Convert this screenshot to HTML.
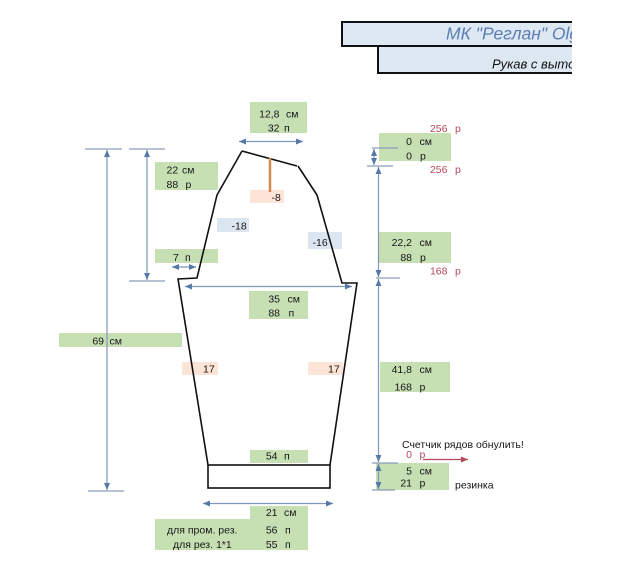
<!DOCTYPE html>
<html><head><meta charset="utf-8"><style>
html,body{margin:0;padding:0;background:#fff;}
svg{display:block;}
text{font-family:"Liberation Sans","DejaVu Sans",sans-serif;font-size:10.5px;fill:#161616;}
.r{fill:#b5475a;}
</style></head><body>
<svg width="633" height="572" viewBox="0 0 633 572" xmlns="http://www.w3.org/2000/svg">
<defs>
<clipPath id="cp"><rect x="0" y="0" width="572" height="100"/></clipPath>
<marker id="ah" markerWidth="8" markerHeight="8" refX="7" refY="4" orient="auto" markerUnits="userSpaceOnUse">
<path d="M0,1 L7,4 L0,7 z" fill="#5878a8"/></marker>
<marker id="ahs" markerWidth="8" markerHeight="8" refX="7" refY="4" orient="auto-start-reverse" markerUnits="userSpaceOnUse">
<path d="M0,1 L7,4 L0,7 z" fill="#5878a8"/></marker>
<marker id="ahr" markerWidth="8" markerHeight="8" refX="7" refY="4" orient="auto" markerUnits="userSpaceOnUse">
<path d="M0,1 L7,4 L0,7 z" fill="#b5475a"/></marker>
</defs>

<!-- Title boxes -->
<rect x="342" y="22" width="240" height="24" fill="#dde8f3"/>
<path d="M572,22 H342 V46 H572" fill="none" stroke="#111" stroke-width="2"/>
<rect x="378" y="46" width="200" height="27" fill="#dde8f3"/>
<path d="M572,46 H378 V73 H572" fill="none" stroke="#111" stroke-width="2"/>
<g clip-path="url(#cp)">
<text x="446" y="39.5" style="font-size:17.5px;font-style:italic;fill:#5b7db1">МК "Реглан" Olga</text>
<text x="492" y="68.5" style="font-size:13px;font-style:italic;fill:#111">Рукав с выточками</text>
</g>
<rect x="572" y="18" width="61" height="60" fill="#fff"/>

<!-- Colored boxes -->
<g>
<rect x="250" y="102" width="57" height="31" fill="#c6e0b4"/>
<rect x="155" y="162" width="63" height="28" fill="#c6e0b4"/>
<rect x="155" y="249" width="63" height="14" fill="#c6e0b4"/>
<rect x="250" y="190" width="34" height="13" fill="#fce4d6"/>
<rect x="217" y="218" width="32" height="14" fill="#dce6f1"/>
<rect x="308" y="232" width="34" height="17" fill="#dce6f1"/>
<rect x="249" y="291" width="59" height="28" fill="#c6e0b4"/>
<rect x="59" y="333" width="123" height="14" fill="#c6e0b4"/>
<rect x="182" y="362" width="36" height="13" fill="#fce4d6"/>
<rect x="308" y="362" width="35" height="13" fill="#fce4d6"/>
<rect x="250" y="450" width="58" height="13" fill="#c6e0b4"/>
<rect x="250" y="506" width="58" height="14" fill="#c6e0b4"/>
<rect x="155" y="519" width="153" height="31" fill="#c6e0b4"/>
<rect x="379" y="133" width="72" height="28" fill="#c6e0b4"/>
<rect x="379" y="232" width="72" height="31" fill="#c6e0b4"/>
<rect x="380" y="362" width="70" height="30" fill="#c6e0b4"/>
<rect x="376" y="463" width="73" height="27" fill="#c6e0b4"/>
</g>

<!-- Sleeve outline -->
<g fill="none" stroke="#111" stroke-width="1.6" stroke-linejoin="miter">
<polyline points="242,151 297,166"/>
<polyline points="242,151 217,195 197,278 178,279 208,465"/>
<polyline points="298,166 317,195 342,283 357,283 330,465"/>
<rect x="208" y="465" width="122" height="23"/>
</g>
<line x1="270" y1="158" x2="270" y2="192" stroke="#d08a4a" stroke-width="2.5"/>

<!-- Dimension lines -->
<g stroke="#8a9cb8" stroke-width="1.2" fill="none">
<line x1="85" y1="149" x2="122" y2="149"/>
<line x1="88" y1="491" x2="124" y2="491"/>
<line x1="129" y1="149" x2="165" y2="149"/>
<line x1="129" y1="281" x2="165" y2="281"/>
<line x1="372" y1="148" x2="398" y2="148"/>
<line x1="367" y1="166" x2="393" y2="166"/>
<line x1="376" y1="278" x2="400" y2="278"/>
<line x1="372" y1="463" x2="398" y2="463"/>
<line x1="372" y1="490" x2="395" y2="490"/>
</g>
<g stroke="#7f97bb" stroke-width="1.2" fill="none">
<line x1="107" y1="150" x2="107" y2="490" marker-start="url(#ahs)" marker-end="url(#ah)"/>
<line x1="147" y1="150" x2="147" y2="280" marker-start="url(#ahs)" marker-end="url(#ah)"/>
<line x1="374" y1="149" x2="374" y2="165" marker-start="url(#ahs)" marker-end="url(#ah)"/>
<line x1="378.5" y1="167" x2="378.5" y2="277" marker-start="url(#ahs)" marker-end="url(#ah)"/>
<line x1="378.5" y1="279" x2="378.5" y2="462" marker-start="url(#ahs)" marker-end="url(#ah)"/>
<line x1="378.5" y1="464" x2="378.5" y2="489" marker-start="url(#ahs)" marker-end="url(#ah)"/>
<line x1="239" y1="141.5" x2="303" y2="141.5" marker-start="url(#ahs)" marker-end="url(#ah)"/>
<line x1="172" y1="267" x2="196" y2="267" marker-start="url(#ahs)" marker-end="url(#ah)"/>
<line x1="185" y1="286.5" x2="352" y2="286.5" marker-start="url(#ahs)" marker-end="url(#ah)"/>
<line x1="203" y1="503.5" x2="333" y2="503.5" marker-start="url(#ahs)" marker-end="url(#ah)"/>
</g>
<line x1="423" y1="459.5" x2="468" y2="459.5" stroke="#b5475a" stroke-width="1.2" marker-end="url(#ahr)"/>

<!-- Texts -->
<g>
<text x="279.5" y="117.5" text-anchor="end">12,8</text><text x="286" y="117.5">см</text>
<text x="279.5" y="131.5" text-anchor="end">32</text><text x="284" y="131.5">п</text>

<text x="166.5" y="173.5">22</text><text x="182" y="173.5">см</text>
<text x="166.5" y="188">88</text><text x="185.5" y="188">р</text>

<text x="173" y="261">7</text><text x="185" y="261">п</text>

<text x="271.5" y="201">-8</text>
<text x="231.5" y="229.5">-18</text>
<text x="312.5" y="246">-16</text>

<text x="280" y="302.5" text-anchor="end">35</text><text x="287.5" y="302.5">см</text>
<text x="280" y="316.5" text-anchor="end">88</text><text x="288.5" y="316.5">п</text>

<text x="104" y="344.5" text-anchor="end">69</text><text x="109.5" y="344.5">см</text>

<text x="203" y="372.5">17</text>
<text x="328" y="372.5">17</text>

<text x="277.5" y="459.5" text-anchor="end">54</text><text x="284" y="459.5">п</text>

<text x="277.5" y="516" text-anchor="end">21</text><text x="284" y="516">см</text>
<text x="167" y="533.5">для пром. рез.</text>
<text x="277.5" y="533.5" text-anchor="end">56</text><text x="285" y="533.5">п</text>
<text x="173" y="548">для рез. 1*1</text>
<text x="277.5" y="548" text-anchor="end">55</text><text x="285" y="548">п</text>

<text class="r" x="447.5" y="132" text-anchor="end">256</text><text class="r" x="455" y="132">р</text>
<text x="412" y="145" text-anchor="end">0</text><text x="419.5" y="145">см</text>
<text x="412" y="159.5" text-anchor="end">0</text><text x="420" y="159.5">р</text>
<text class="r" x="447.5" y="173" text-anchor="end">256</text><text class="r" x="455" y="173">р</text>

<text x="412" y="246" text-anchor="end">22,2</text><text x="419.5" y="246">см</text>
<text x="412" y="261" text-anchor="end">88</text><text x="420" y="261">р</text>
<text class="r" x="447.5" y="274.5" text-anchor="end">168</text><text class="r" x="455" y="274.5">р</text>

<text x="412" y="373" text-anchor="end">41,8</text><text x="419.5" y="373">см</text>
<text x="412" y="390.5" text-anchor="end">168</text><text x="419.5" y="390.5">р</text>

<text x="402" y="448">Счетчик рядов обнулить!</text>
<text class="r" x="412" y="458" text-anchor="end">0</text><text class="r" x="419.5" y="458">р</text>
<text x="412" y="474.5" text-anchor="end">5</text><text x="419.5" y="474.5">см</text>
<text x="412" y="486.5" text-anchor="end">21</text><text x="419.5" y="486.5">р</text>
<text x="455" y="488.5">резинка</text>
</g>
</svg>
</body></html>
